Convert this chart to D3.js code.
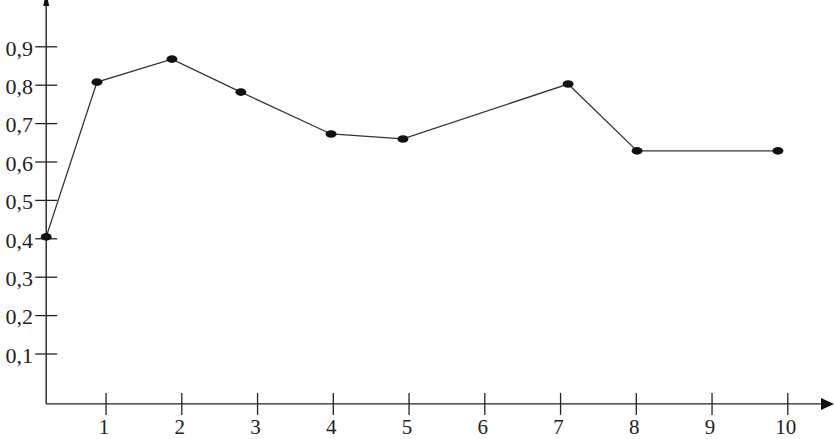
<!DOCTYPE html>
<html>
<head>
<meta charset="utf-8">
<script src="https://cdn.jsdelivr.net/npm/d3@7"></script>
<style>
    html, body { margin: 0; padding: 0; background: white; }
    svg { display: block; }
</style>
</head>
<body>
<script>
// Data
var xValues = [0.21, 0.88, 1.87, 2.78, 3.97, 4.92, 7.10, 8.01, 9.87];
var yValues = [0.405, 0.808, 0.868, 0.782, 0.673, 0.66, 0.803, 0.629, 0.629];
var xTicks = [1, 2, 3, 4, 5, 6, 7, 8, 9, 10];
var yTicks = [0.1, 0.2, 0.3, 0.4, 0.5, 0.6, 0.7, 0.8, 0.9];
var xOrigin = 0.21;   // where the y axis crosses
var yOrigin = -0.03;  // where the x axis crosses

var width = 834, height = 439;

var svg = d3.select("body").append("svg")
            .attr("width", width)
            .attr("height", height);

var x = d3.scaleLinear().domain([0, 10]).range([30.3, 787.8]);
var y = d3.scaleLinear().domain([0, 1]).range([392.4, 8.4]);

var fmt = function (d) { return d3.format(".1f")(d).replace(".", ","); };
var font = "'Liberation Serif', 'DejaVu Serif', serif";

// Axis lines
var x0 = x(xOrigin), y0 = y(yOrigin);
var ax = svg.append("g").attr("stroke", "#222").attr("stroke-width", 1.4);
ax.append("line")
  .attr("x1", x0).attr("x2", 824)
  .attr("y1", y0).attr("y2", y0);
ax.append("line")
  .attr("x1", x0).attr("x2", x0)
  .attr("y1", y0).attr("y2", 4);

// Arrow heads
svg.append("path")
   .attr("d", "M821," + (y0 - 6) + "L834," + y0 + "L821," + (y0 + 6) + "Z")
   .attr("fill", "#111");
svg.append("path")
   .attr("d", "M" + (x0 - 3) + ",6L" + x0 + ",-8L" + (x0 + 3) + ",6Z")
   .attr("fill", "#111");

// X ticks
var xt = svg.append("g").selectAll("g").data(xTicks).join("g")
            .attr("transform", function (d) { return "translate(" + x(d) + ",0)"; });
xt.append("line")
  .attr("y1", y0 - 11).attr("y2", y0 + 11)
  .attr("stroke", "#222").attr("stroke-width", 1.3);
xt.append("text")
  .attr("y", 434)
  .attr("x", -2)
  .attr("text-anchor", "middle")
  .attr("font-family", font)
  .attr("font-size", 21)
  .attr("fill", "#222")
  .text(function (d) { return d; });

// Y ticks
var yt = svg.append("g").selectAll("g").data(yTicks).join("g")
            .attr("transform", function (d) { return "translate(0," + y(d) + ")"; });
yt.append("line")
  .attr("x1", x0 - 11).attr("x2", x0 + 11)
  .attr("stroke", "#222").attr("stroke-width", 1.3);
yt.append("text")
  .attr("x", 33)
  .attr("dy", "0.4em")
  .attr("text-anchor", "end")
  .attr("font-family", font)
  .attr("font-size", 22)
  .attr("fill", "#222")
  .text(fmt);

// Line and points
var pts = xValues.map(function (d, i) { return [d, yValues[i]]; });
var line = d3.line()
             .x(function (d) { return x(d[0]); })
             .y(function (d) { return y(d[1]); });

svg.append("path")
   .datum(pts)
   .attr("d", line)
   .attr("fill", "none")
   .attr("stroke", "#333")
   .attr("stroke-width", 1.3);

svg.append("g").selectAll("ellipse").data(pts).join("ellipse")
   .attr("cx", function (d) { return x(d[0]); })
   .attr("cy", function (d) { return y(d[1]); })
   .attr("rx", 5.5)
   .attr("ry", 3.8)
   .attr("fill", "#111");
</script>
</body>
</html>
